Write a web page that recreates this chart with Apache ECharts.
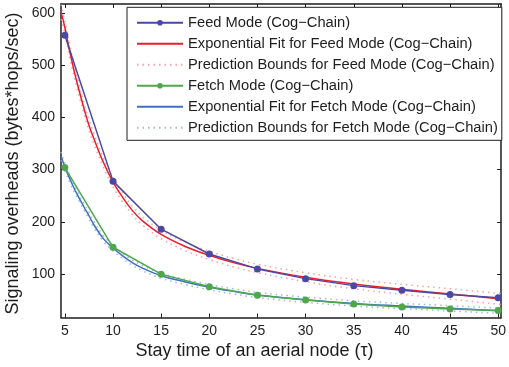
<!DOCTYPE html>
<html>
<head>
<meta charset="utf-8">
<script src="https://cdn.jsdelivr.net/npm/echarts@6/dist/echarts.min.js"></script>
<style>
  html, body { margin: 0; padding: 0; background: #fff; }
  #chart { width: 509px; height: 367px; }
</style>
</head>
<body>
<div id="chart"></div>
<script>
// Stay time of an aerial node (tau) at which the simulations were run
const stayTimes = [5, 10, 15, 20, 25, 30, 35, 40, 45, 50];

// Measured signaling overheads (bytes*hops/sec)
const feedMode  = [557, 278, 186, 138.6, 110, 91.4, 78, 69.3, 61, 55];
const fetchMode = [304, 151.4, 100, 76, 59.6, 50.7, 43, 37.3, 33.4, 30.2];

// Sample positions of the fitted curves and their prediction bounds
const fitX = [4.6, 5, 5.5, 6, 6.5, 7, 7.5, 8, 9, 10, 11, 12, 13, 15, 17.5, 20, 22.5, 25, 30, 35, 40, 45, 50, 50.3];

// Exponential fit for feed mode, with upper / lower prediction bounds
const feedFit   = [602, 572, 527, 486, 450, 416, 385, 360, 314, 276, 247, 222, 203, 176, 153, 136, 122, 111, 94, 81, 71, 62, 53, 52.5];
const feedUpper = [616, 584, 539, 497, 461, 426, 395, 370, 323, 285, 256, 230, 211, 184, 161, 144, 130, 119, 102.5, 90, 80.5, 72, 63.5, 63];
const feedLower = [588, 560, 515, 475, 439, 406, 375, 350, 305, 267, 238, 214, 195, 168, 145, 128, 114, 103, 85.5, 72, 61.5, 52, 42.5, 42];

// Exponential fit for fetch mode, with upper / lower prediction bounds
const fetchFit   = [326, 305, 283, 263, 245, 228, 212, 195, 168, 150, 135, 122, 112, 97, 85, 75, 67, 60, 51, 44, 39, 34.5, 30, 29.5];
const fetchUpper = [334, 312, 290, 269.5, 251, 234, 218, 201, 173.5, 155.5, 140, 127, 117, 102, 90, 80, 72, 65, 56, 49, 44, 39.5, 35, 34.5];
const fetchLower = [318, 298, 276, 256.5, 239, 222, 206, 189, 162.5, 144.5, 130, 117, 107, 92, 80, 70, 62, 55, 46, 39, 34, 29.5, 25, 24.5];

// Axis ticks
const xTicks = [5, 10, 15, 20, 25, 30, 35, 40, 45, 50];
const yTicks = [100, 200, 300, 400, 500, 600];

const names = [
  'Feed Mode (Cog\u2212Chain)',
  'Exponential Fit for Feed Mode (Cog\u2212Chain)',
  'Prediction Bounds for Feed Mode (Cog\u2212Chain)',
  'Fetch Mode (Cog\u2212Chain)',
  'Exponential Fit for Fetch Mode (Cog\u2212Chain)',
  'Prediction Bounds for Fetch Mode (Cog\u2212Chain)'
];
// entries drawn with a marker in the legend
const withMarker = [true, false, false, true, false, false];

const C = {
  feed: '#4a48a2',
  feedFit: '#ec1c28',
  feedBound: '#f3a3a6',
  fetch: '#4fa64c',
  fetchFit: '#3b70c6',
  fetchBound: '#9db8e4',
  ink: '#1e1e1e'
};

const pair = (xs, ys) => xs.map((x, i) => [x, ys[i]]);
const FONT = '"Liberation Sans", Arial, Helvetica, sans-serif';

const axisCommon = {
  type: 'value',
  axisLine: { show: true, onZero: false, lineStyle: { color: C.ink, width: 1.5 } },
  splitLine: { show: false }
};

function measured(name, ys, color) {
  return {
    name, type: 'line', data: pair(stayTimes, ys),
    symbol: 'circle', symbolSize: 7, showSymbol: true,
    lineStyle: { color, width: 1.5 }, itemStyle: { color },
    z: 5, animation: false
  };
}
function fitted(name, ys, color) {
  return {
    name, type: 'line', data: pair(fitX, ys), smooth: 0.4,
    symbol: 'none', lineStyle: { color, width: 1.5 }, itemStyle: { color },
    z: 4, animation: false
  };
}
function bound(name, ys, color) {
  return {
    name, type: 'line', data: pair(fitX, ys), smooth: 0.4,
    symbol: 'none', lineStyle: { color, width: 1.5, type: [1.5, 4] }, itemStyle: { color },
    z: 3, animation: false
  };
}

const chart = echarts.init(document.getElementById('chart'), null, { renderer: 'canvas' });
chart.setOption({
  backgroundColor: '#fff',
  animation: false,
  textStyle: { fontFamily: FONT },
  grid: { left: 61, top: 4, width: 443, height: 313.5, containLabel: false },
  xAxis: [
    Object.assign({}, axisCommon, {
      position: 'bottom', min: 4.6, max: 50.3,
      axisTick: { show: true, inside: true, length: 4, customValues: xTicks, lineStyle: { color: C.ink, width: 1 } },
      axisLabel: { show: true, customValues: xTicks, margin: 7, fontSize: 14, color: C.ink, fontFamily: FONT }
    }),
    Object.assign({}, axisCommon, {
      position: 'top', min: 4.6, max: 50.3,
      axisTick: { show: true, inside: true, length: 4, customValues: xTicks, lineStyle: { color: C.ink, width: 1 } },
      axisLabel: { show: false }
    })
  ],
  yAxis: [
    Object.assign({}, axisCommon, {
      position: 'left', min: 17, max: 617,
      axisTick: { show: true, inside: true, length: 4, customValues: yTicks, lineStyle: { color: C.ink, width: 1 } },
      axisLabel: { show: true, customValues: yTicks, margin: 6, fontSize: 14, color: C.ink, fontFamily: FONT }
    }),
    Object.assign({}, axisCommon, {
      position: 'right', min: 17, max: 617,
      axisTick: { show: true, inside: true, length: 4, customValues: yTicks, lineStyle: { color: C.ink, width: 1 } },
      axisLabel: { show: false }
    })
  ],
  legend: {
    data: names.map((n, i) => withMarker[i] ? { name: n } : { name: n, itemStyle: { opacity: 0 } }),
    orient: 'vertical',
    left: 127, top: 7.3,
    padding: [7, 4, 4, 9],
    itemWidth: 46, itemHeight: 7, itemGap: 4,
    backgroundColor: '#fff',
    borderColor: C.ink, borderWidth: 1,
    textStyle: { fontSize: 14.7, lineHeight: 17, color: C.ink, fontFamily: FONT, padding: [0, 0, 0, 0] },
    selectedMode: false
  },
  graphic: [
    { type: 'text', left: 'center', x: 0, style: { text: 'Stay time of an aerial node (\u03c4)', font: '18px ' + FONT, fill: C.ink }, top: 342 },
    { type: 'text', x: 13.5, y: 163.5, rotation: Math.PI / 2,
      style: { text: 'Signaling overheads (bytes*hops/sec)', font: '18px ' + FONT, fill: C.ink, align: 'center', verticalAlign: 'middle' } }
  ],
  series: [
    bound(names[2], feedUpper, C.feedBound),
    bound(names[2], feedLower, C.feedBound),
    bound(names[5], fetchUpper, C.fetchBound),
    bound(names[5], fetchLower, C.fetchBound),
    fitted(names[1], feedFit, C.feedFit),
    fitted(names[4], fetchFit, C.fetchFit),
    measured(names[0], feedMode, C.feed),
    measured(names[3], fetchMode, C.fetch)
  ]
});
</script>
</body>
</html>
